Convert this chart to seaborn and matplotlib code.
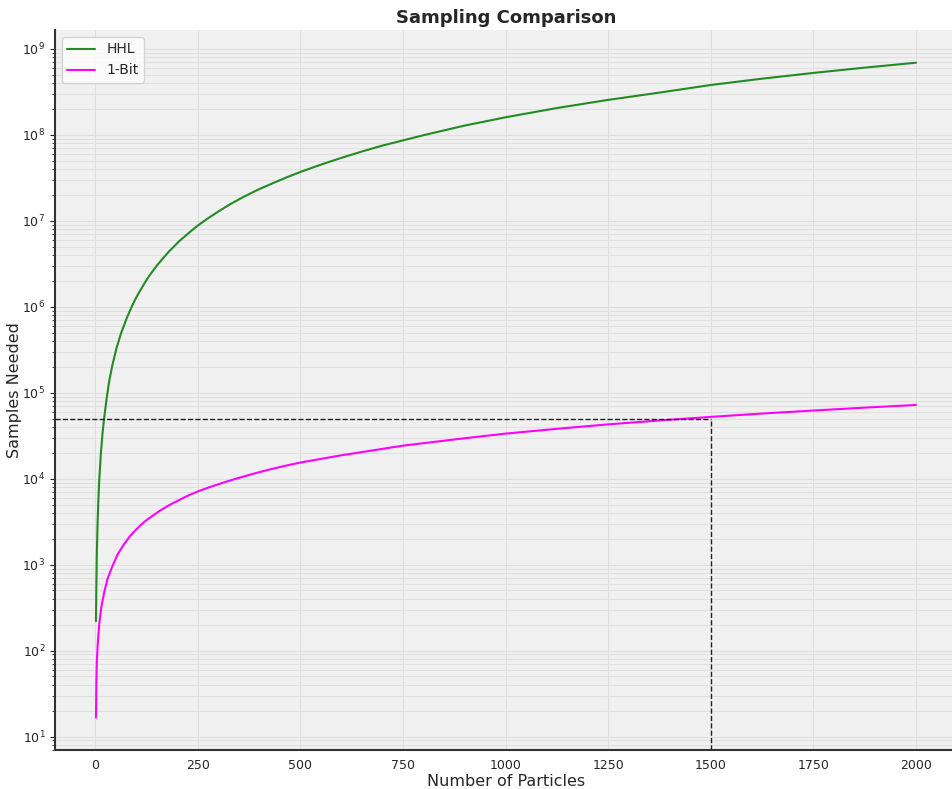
import matplotlib
matplotlib.use("Agg")
import matplotlib.pyplot as plt
import seaborn as sns
import pandas as pd

# Samples needed by the HHL approach
hhl_particles = [2, 3, 4, 6, 8, 10, 14, 18, 22, 28, 34, 42, 52, 63, 77, 91, 100, 110,
                 120, 132, 150, 164, 180, 205, 230, 250, 275, 300, 330, 360, 395, 430,
                 465, 500, 550, 600, 650, 700, 800, 900, 1000, 1125, 1250, 1375, 1500,
                 1625, 1750, 1875, 2000]
hhl_samples = [2.2e2, 6.0e2, 1.3e3, 3.2e3, 6.0e3, 9.8e3, 2.0e4, 3.4e4, 5.1e4, 8.6e4,
               1.35e5, 2.1e5, 3.3e5, 4.9e5, 7.4e5, 1.05e6, 1.28e6, 1.55e6, 1.87e6,
               2.3e6, 3.0e6, 3.6e6, 4.4e6, 5.8e6, 7.35e6, 8.8e6, 1.07e7, 1.28e7,
               1.57e7, 1.88e7, 2.28e7, 2.7e7, 3.18e7, 3.7e7, 4.5e7, 5.4e7, 6.4e7,
               7.5e7, 9.9e7, 1.28e8, 1.6e8, 2.05e8, 2.55e8, 3.1e8, 3.8e8, 4.5e8,
               5.25e8, 6.05e8, 6.9e8]

# Samples needed by the 1-bit approach
onebit_particles = [2, 3, 4, 6, 10, 15, 22, 30, 42, 55, 70, 85, 100, 110, 120, 130,
                    140, 155, 165, 180, 190, 205, 220, 235, 250, 275, 300, 325, 350,
                    385, 420, 460, 500, 600, 750, 900, 1000, 1125, 1250, 1375, 1500,
                    1625, 1750, 1875, 2000]
onebit_samples = [16.6, 45, 72, 115, 205, 320, 475, 680, 960, 1320, 1720, 2150, 2560,
                  2850, 3150, 3420, 3700, 4150, 4450, 4900, 5200, 5650, 6150, 6620,
                  7100, 7850, 8600, 9400, 10200, 11400, 12600, 14000, 15400, 18700,
                  24200, 29500, 33400, 38000, 42800, 47500, 52300, 57200, 62000,
                  67000, 72000]

# Reference marker: sample budget reached at a given particle count
ref_particles = 1500
ref_samples = 5e4

df = pd.concat([
    pd.DataFrame({"Number of Particles": hhl_particles,
                  "Samples Needed": hhl_samples, "Method": "HHL"}),
    pd.DataFrame({"Number of Particles": onebit_particles,
                  "Samples Needed": onebit_samples, "Method": "1-Bit"}),
], ignore_index=True)

sns.set_style("ticks", {
    "axes.facecolor": "#f0f0f0",
    "axes.edgecolor": "#333333",
    "grid.color": "#dcdcdc",
})
plt.rcParams["font.family"] = ["DejaVu Sans"]

fig = plt.figure(figsize=(9.53, 7.89), dpi=100)
ax = fig.add_axes([0.0577, 0.049, 0.9465, 0.913])

sns.lineplot(data=df, x="Number of Particles", y="Samples Needed", hue="Method",
             palette={"HHL": "#228B22", "1-Bit": "#FF00FF"}, linewidth=1.5,
             ax=ax, sort=True, estimator=None)

ax.set_yscale("log")
ax.margins(x=0.05, y=0.05)
ax.autoscale_view()
x0, x1 = ax.get_xlim()
y0, y1 = ax.get_ylim()

ax.hlines(ref_samples, x0, ref_particles, colors="#222222", linestyles="--",
          linewidth=1.0, zorder=3)
ax.vlines(ref_particles, y0, ref_samples, colors="#222222", linestyles="--",
          linewidth=1.0, zorder=3)
ax.set_xlim(x0, x1)
ax.set_ylim(y0, y1)

ax.grid(True, which="major", axis="both", color="#dedede", linewidth=0.8)
ax.grid(True, which="minor", axis="y", color="#e0e0e0", linewidth=0.8)
ax.set_axisbelow(True)

ax.set_title("Sampling Comparison", fontsize=13, fontweight="bold", pad=5)
ax.set_xlabel("Number of Particles", fontsize=11.5, labelpad=2)
ax.set_ylabel("Samples Needed", fontsize=11.5, labelpad=0)
ax.tick_params(axis="both", labelsize=9)
ax.tick_params(axis="x", length=0, pad=6)

for side in ["top", "right"]:
    ax.spines[side].set_visible(False)
ax.spines["left"].set_linewidth(1.5)
ax.spines["bottom"].set_linewidth(1.5)

leg = ax.legend(loc="upper left", fontsize=10, frameon=True, title=None)
leg.get_frame().set_facecolor("white")
leg.get_frame().set_edgecolor("#cccccc")

fig.savefig("out.png", dpi=100)
